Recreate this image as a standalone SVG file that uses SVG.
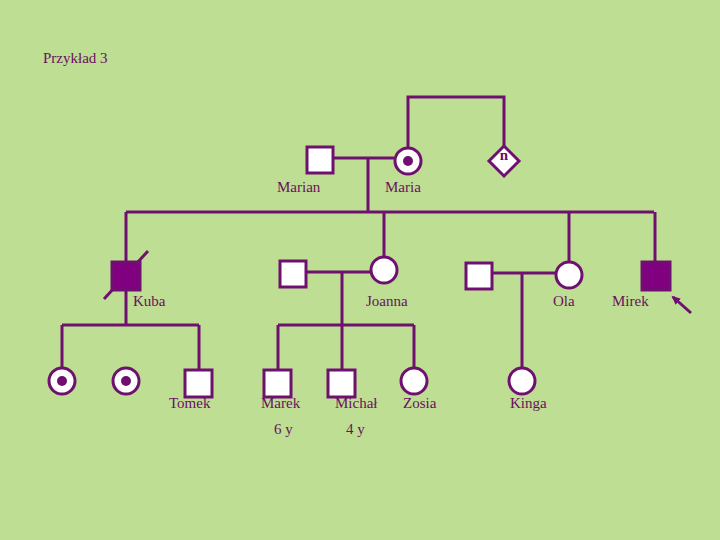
<svg xmlns="http://www.w3.org/2000/svg" width="720" height="540" viewBox="0 0 720 540">
<defs>
<style>
.ln{fill:none;stroke:#6f1070;stroke-width:3}
.m{fill:#ffffff;stroke:#6f1070;stroke-width:3}
.a{fill:#800080;stroke:#6f1070;stroke-width:3}
.f{fill:#ffffff;stroke:#6f1070;stroke-width:3}
.dot{fill:#6f1070}
text{font-family:"Liberation Serif","Times New Roman",serif;font-size:15px;fill:#6a0f5e}
</style>
<marker id="ah" markerWidth="10" markerHeight="10" refX="7" refY="4" orient="auto" markerUnits="userSpaceOnUse">
<path d="M0,0 L9,4 L0,8 Z" fill="#6f1070"/>
</marker>
</defs>
<rect width="720" height="540" fill="#bede94"/>
<text x="43" y="63">Przykład 3</text>
<g id="connectors">
<polyline class="ln" points="408,147 408,97 504,97 504,146"/>
<line class="ln" x1="333" y1="158" x2="394" y2="158"/>
<line class="ln" x1="368" y1="158" x2="368" y2="212"/>
<line class="ln" x1="126" y1="212" x2="654" y2="212"/>
<line class="ln" x1="126" y1="212" x2="126" y2="325"/>
<line class="ln" x1="104" y1="299" x2="148" y2="251"/>
<line class="ln" x1="384" y1="212" x2="384" y2="257"/>
<line class="ln" x1="569" y1="212" x2="569" y2="262"/>
<line class="ln" x1="655" y1="212" x2="655" y2="262"/>
<line class="ln" x1="62" y1="325" x2="199" y2="325"/>
<line class="ln" x1="62" y1="325" x2="62" y2="367"/>
<line class="ln" x1="199" y1="325" x2="199" y2="370"/>
<line class="ln" x1="306" y1="272" x2="371" y2="272"/>
<line class="ln" x1="342" y1="272" x2="342" y2="370"/>
<line class="ln" x1="278" y1="325" x2="414" y2="325"/>
<line class="ln" x1="278" y1="325" x2="278" y2="370"/>
<line class="ln" x1="414" y1="325" x2="414" y2="367"/>
<line class="ln" x1="493" y1="273" x2="555" y2="273"/>
<line class="ln" x1="522" y1="273" x2="522" y2="367"/>
<line class="ln" x1="691" y1="313" x2="673" y2="297" marker-end="url(#ah)"/>
</g>
<g id="marian"><rect class="m" x="307" y="147" width="26" height="26"/><text x="277" y="192">Marian</text></g>
<g id="maria"><circle class="f" cx="408" cy="161" r="13"/><circle class="dot" cx="408" cy="161" r="5"/><text x="385" y="192">Maria</text></g>
<g id="n"><polygon class="f" points="504,146 519,161 504,176 489,161"/><text x="504" y="160" text-anchor="middle" font-size="13" font-weight="bold">n</text></g>
<g id="kuba"><rect class="a" x="112" y="262" width="28" height="28"/><text x="133" y="306">Kuba</text></g>
<g id="joanna-husband"><rect class="m" x="280" y="261" width="26" height="26"/></g>
<g id="joanna"><circle class="f" cx="384" cy="270" r="13"/><text x="366" y="306">Joanna</text></g>
<g id="ola-husband"><rect class="m" x="466" y="263" width="26" height="26"/></g>
<g id="ola"><circle class="f" cx="569" cy="275" r="13"/><text x="553" y="306">Ola</text></g>
<g id="mirek"><rect class="a" x="642" y="262" width="28" height="28"/><text x="612" y="306">Mirek</text></g>
<g id="child1"><circle class="f" cx="62" cy="381" r="13"/><circle class="dot" cx="62" cy="381" r="5"/></g>
<g id="child2"><circle class="f" cx="126" cy="381" r="13"/><circle class="dot" cx="126" cy="381" r="5"/></g>
<g id="tomek"><rect class="m" x="185" y="370" width="27" height="27"/><text x="169" y="408">Tomek</text></g>
<g id="marek"><rect class="m" x="264" y="370" width="27" height="27"/><text x="261" y="408">Marek</text><text x="274" y="434">6 y</text></g>
<g id="michal"><rect class="m" x="328" y="370" width="27" height="27"/><text x="335" y="408">Michał</text><text x="346" y="434">4 y</text></g>
<g id="zosia"><circle class="f" cx="414" cy="381" r="13"/><text x="403" y="408">Zosia</text></g>
<g id="kinga"><circle class="f" cx="522" cy="381" r="13"/><text x="510" y="408">Kinga</text></g>
</svg>
